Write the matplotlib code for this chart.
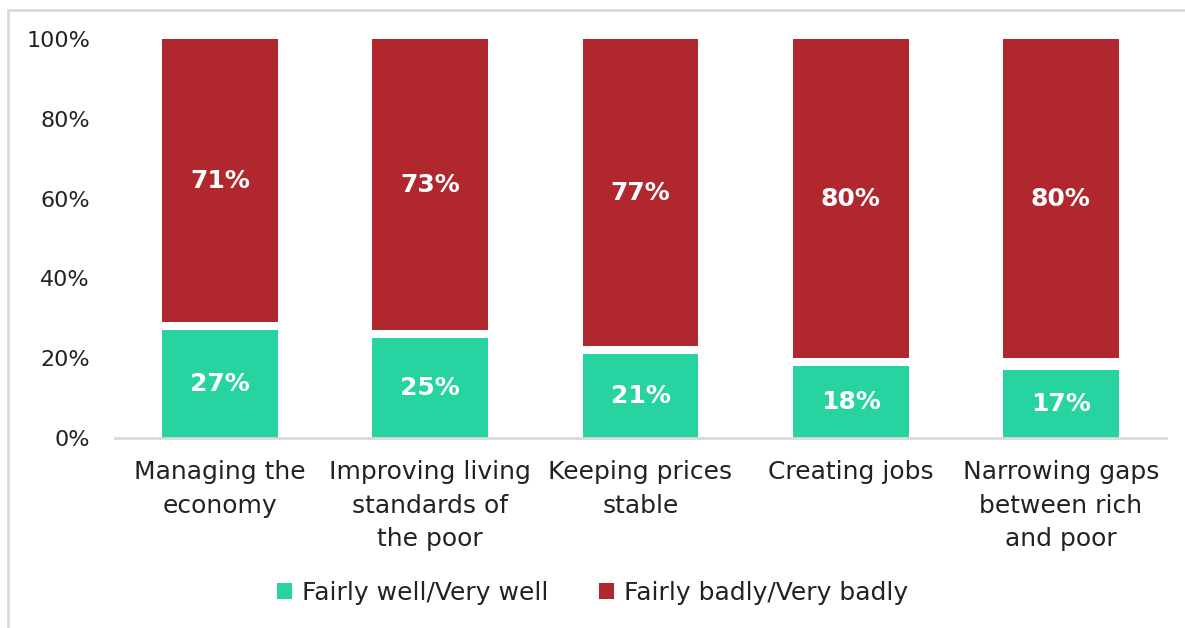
import matplotlib.pyplot as plt
import numpy as np
from matplotlib.patches import Rectangle

# Data
categories = ['Managing the\neconomy', 'Improving living\nstandards of\nthe poor',
              'Keeping prices\nstable', 'Creating jobs', 'Narrowing gaps\nbetween rich\nand poor']
well = [27, 25, 21, 18, 17]
badly = [71, 73, 77, 80, 80]

green = '#26D3A1'
red = '#B0282E'

plt.rcParams['font.family'] = ['DejaVu Sans']

fig = plt.figure(figsize=(11.85, 6.28), dpi=100)
ax = fig.add_axes([115 / 1185, 1 - 438 / 628, 1051 / 1185, 399 / 628])

x = np.arange(len(categories))
# red segment sits at the top; the remainder (don't know) is left blank
red_bottom = [100 - b for b in badly]
ax.bar(x, well, width=0.55, color=green, label='Fairly well/Very well')
ax.bar(x, badly, width=0.55, bottom=red_bottom, color=red, label='Fairly badly/Very badly')

for i in range(len(x)):
    ax.text(x[i], well[i] / 2, f'{well[i]}%', ha='center', va='center',
            color='white', fontsize=18, fontweight='bold')
    ax.text(x[i], red_bottom[i] + badly[i] / 2, f'{badly[i]}%', ha='center', va='center',
            color='white', fontsize=18, fontweight='bold')

ax.set_xlim(-0.5, 4.5)
ax.set_ylim(0, 100)
ax.set_yticks([0, 20, 40, 60, 80, 100])
ax.set_yticklabels([f'{v}%' for v in [0, 20, 40, 60, 80, 100]], fontsize=16, color='#222222')
ax.set_xticks(x)
ax.set_xticklabels(categories, fontsize=18, color='#222222', linespacing=1.5)
ax.tick_params(axis='both', length=0)
ax.tick_params(axis='y', pad=18)
ax.tick_params(axis='x', pad=16)
for s in ['top', 'right', 'left']:
    ax.spines[s].set_visible(False)
ax.spines['bottom'].set_color('#D9D9D9')
ax.spines['bottom'].set_linewidth(2)

leg = fig.legend(loc='center', bbox_to_anchor=(0.5, 1 - 593 / 628), ncol=2, frameon=False,
                 fontsize=18, handlelength=0.6, handleheight=0.6, handletextpad=0.4,
                 columnspacing=2.0)
for t in leg.get_texts():
    t.set_color('#222222')

# outer chart frame
fig.patches.append(Rectangle((8 / 1185, -0.1), 1.2, 1 - 10 / 628 + 0.1, transform=fig.transFigure,
                             fill=False, edgecolor='#D9D9D9', linewidth=2))

fig.savefig('out.png', dpi=100)
